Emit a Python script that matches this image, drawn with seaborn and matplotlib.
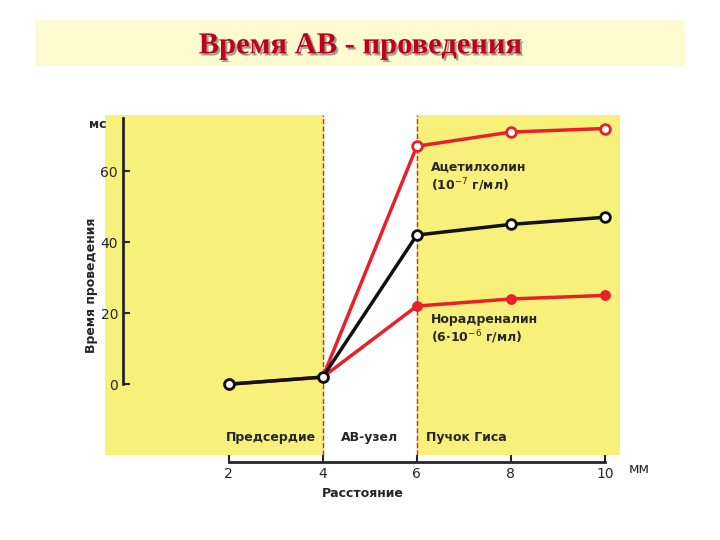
import matplotlib.pyplot as plt
import matplotlib.patheffects as pe
import seaborn as sns
import pandas as pd
from matplotlib.patches import Rectangle

dist = [2, 4, 6, 8, 10]
control = [0, 2, 42, 45, 47]
acetylcholine = [0, 2, 67, 71, 72]
noradr_x = [4, 6, 8, 10]
noradrenaline = [2, 22, 24, 25]
regions = ["Предсердие", "АВ-узел", "Пучок Гиса"]

sns.set_style("white")
plt.rcParams['font.family'] = ['DejaVu Sans']

fig = plt.figure(figsize=(7.2, 5.4), dpi=100)

# title box
fig.patches.append(Rectangle((35 / 720, 1 - 66 / 540), 650 / 720, 46 / 540,
                             transform=fig.transFigure, facecolor="#fdfbd0", edgecolor="none"))
fig.text(0.5, 0.915, "Время АВ - проведения", ha="center", va="center", fontsize=22,
         family="Liberation Serif", fontweight="bold", color="#c0001a",
         path_effects=[pe.SimplePatchShadow(offset=(1.5, -1.5), shadow_rgbFace="#888888", alpha=0.8),
                       pe.Normal()])

ax = fig.add_axes([0.146, 0.157, 0.715, 0.63])
ax.set_xlim(-0.63, 10.32)
ax.set_ylim(-20, 75.8)
yellow = "#f7f07a"
ax.axvspan(-0.63, 4, color=yellow, zorder=0)
ax.axvspan(6, 10.32, color=yellow, zorder=0)
ax.axvline(4, color="#e0202a", ls="--", lw=1)
ax.axvline(6, color="#e0202a", ls="--", lw=1)

df = pd.DataFrame({"x": dist, "c": control, "a": acetylcholine})
sns.lineplot(x=noradr_x, y=noradrenaline, ax=ax, color="#e8202a", lw=2.5, marker="o",
             markersize=7, markerfacecolor="#e8202a", markeredgecolor="#e8202a")
sns.lineplot(data=df, x="x", y="a", ax=ax, color="#e8202a", lw=2.5, marker="o",
             markersize=7, markerfacecolor="white", markeredgecolor="#e8202a", markeredgewidth=2)
sns.lineplot(data=df, x="x", y="c", ax=ax, color="#111111", lw=2.5, marker="o",
             markersize=7, markerfacecolor="white", markeredgecolor="#111111", markeredgewidth=2)

ax.text(6.3, 63, "Ацетилхолин\n(10$^{-7}$ г/мл)", fontsize=9, fontweight="bold", va="top")
ax.text(6.3, 20, "Норадреналин\n(6·10$^{-6}$ г/мл)", fontsize=9, fontweight="bold", va="top")
ax.text(3.85, -16, regions[0], fontsize=9, fontweight="bold", ha="right")
ax.text(5.0, -16, regions[1], fontsize=9, fontweight="bold", ha="center")
ax.text(6.2, -16, regions[2], fontsize=9, fontweight="bold", ha="left")

ax.set_xticks(dist)
ax.set_xticklabels([str(d) for d in dist], fontsize=10)
ax.set_yticks([0, 20, 40, 60])
ax.set_yticklabels(["0", "20", "40", "60"], fontsize=10)
ax.text(-0.6, 73, "мс", fontsize=9, fontweight="bold", ha="right", va="center")
ax.text(10.5, -23.8, "мм", fontsize=10, va="center")
for s in ["top", "right"]:
    ax.spines[s].set_visible(False)
ax.spines["left"].set_position(("data", -0.25))
ax.spines["left"].set_bounds(0, 75)
ax.spines["left"].set_linewidth(2)
ax.spines["bottom"].set_position(("outward", 5))
ax.spines["bottom"].set_bounds(2, 10)
ax.spines["bottom"].set_linewidth(2)
ax.tick_params(axis="both", length=5, width=1.5, direction="in", left=True, bottom=True)
ax.set_xlabel("Расстояние", fontsize=9, fontweight="bold")
ax.set_ylabel("Время проведения", fontsize=9, fontweight="bold", labelpad=2)

fig.savefig("out.png", dpi=100)
